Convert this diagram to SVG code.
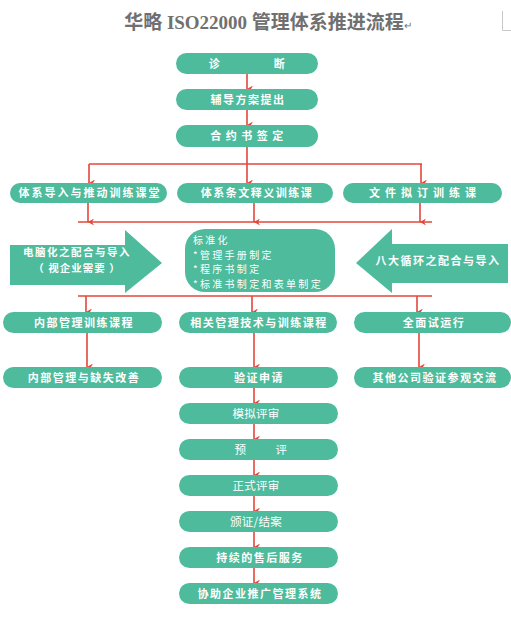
<svg xmlns="http://www.w3.org/2000/svg" width="511" height="617" viewBox="0 0 511 617">
<defs>
<marker id="ah" markerWidth="7" markerHeight="7" refX="3.5" refY="6" orient="auto-start-reverse" markerUnits="userSpaceOnUse" viewBox="0 0 7 7">
<path d="M0,0 L3.5,6 L7,0 L3.5,2 Z" fill="#e2473b"/>
</marker>
</defs>
<style>
.b{fill:#4dbb9c}
.t{fill:#fff;font-family:"Noto Sans CJK SC","Noto Sans",sans-serif;font-size:11px;font-weight:bold;text-anchor:middle;letter-spacing:1.5px}
.m{fill:#fff;font-family:"Noto Sans CJK SC","Noto Sans",sans-serif;font-size:10px;letter-spacing:2.3px}
.c{stroke:#e2473b;stroke-width:1.6;fill:none}
.a{stroke:#e2473b;stroke-width:1.6;fill:none;marker-end:url(#ah)}
</style>
<rect width="511" height="617" fill="#fff"/>
<text x="268" y="29" text-anchor="middle" font-family="'Liberation Serif','Noto Sans CJK SC',serif" font-size="19" font-weight="bold" fill="#707070">华略 ISO22000 管理体系推进流程<tspan font-size="10" font-weight="normal">↵</tspan></text>
<path d="M502.5,11 V30.5 H511" stroke="#c8c8c8" stroke-width="1" fill="none"/>

<g id="connectors">
<line class="a" x1="247" y1="74" x2="247" y2="89"/>
<line class="a" x1="247" y1="110" x2="247" y2="125"/>
<polyline class="c" points="247,147 247,164"/>
<line class="c" x1="89" y1="164" x2="422" y2="164"/>
<line class="a" x1="89" y1="164" x2="89" y2="183"/>
<line class="a" x1="247" y1="164" x2="247" y2="183"/>
<line class="a" x1="421" y1="164" x2="421" y2="183"/>
<line class="a" x1="88" y1="203" x2="88" y2="222"/>
<line class="a" x1="254" y1="203" x2="254" y2="222"/>
<line class="a" x1="420" y1="203" x2="420" y2="222"/>
<line class="c" x1="78" y1="222" x2="432" y2="222"/>
<line class="c" x1="78" y1="296" x2="432" y2="296"/>
<line class="a" x1="86" y1="296" x2="86" y2="312"/>
<line class="a" x1="252" y1="296" x2="252" y2="312"/>
<line class="a" x1="417" y1="296" x2="417" y2="312"/>
<line class="a" x1="87" y1="333" x2="87" y2="367"/>
<line class="a" x1="254" y1="333" x2="254" y2="367"/>
<line class="a" x1="419" y1="333" x2="419" y2="367"/>
<line class="a" x1="254" y1="388" x2="254" y2="403"/>
<line class="a" x1="254" y1="424" x2="254" y2="439"/>
<line class="a" x1="254" y1="460" x2="254" y2="475"/>
<line class="a" x1="254" y1="496" x2="254" y2="511"/>
<line class="a" x1="254" y1="532" x2="254" y2="547"/>
<line class="a" x1="254" y1="568" x2="254" y2="583"/>
</g>

<g id="n-zhenduan"><rect class="b" x="176" y="53" width="142" height="21" rx="10.5"/><text class="t" y="67.5"><tspan x="215">诊</tspan><tspan x="280">断</tspan></text></g>
<g id="n-fudao"><rect class="b" x="176" y="89" width="142" height="21" rx="10.5"/><text class="t" x="248" y="103.5">辅导方案提出</text></g>
<g id="n-heyue"><rect class="b" x="176" y="125" width="142" height="22" rx="11"/><text class="t" x="249" y="140" style="letter-spacing:4.5px">合约书签定</text></g>

<g id="n-tixidaoru"><rect class="b" x="10" y="183" width="157" height="20" rx="10"/><text class="t" x="90" y="197" style="letter-spacing:2px">体系导入与推动训练课堂</text></g>
<g id="n-tiaowen"><rect class="b" x="177" y="183" width="156" height="20" rx="10"/><text class="t" x="257" y="197">体系条文释义训练课</text></g>
<g id="n-wenjian"><rect class="b" x="343" y="183" width="159" height="20" rx="10"/><text class="t" x="425" y="197" style="letter-spacing:5px">文件拟订训练课</text></g>

<g id="n-diannao"><path class="b" d="M10,245 H125 V230 L162,263 L125,293 V285 H10 Z"/><text class="t" x="77" y="256" style="font-size:10.5px">电脑化之配合与导入</text><text class="t" x="77" y="272" style="font-size:10.5px;letter-spacing:1px">（ 视企业需要 ）</text></g>
<g id="n-biaozhun"><rect class="b" x="185" y="229" width="150" height="63" rx="20"/>
<text class="m" x="193" y="244">标准化</text>
<text class="m" x="193" y="258.5">*管理手册制定</text>
<text class="m" x="193" y="273">*程序书制定</text>
<text class="m" x="193" y="287.5">*标准书制定和表单制定</text></g>
<g id="n-bada"><path class="b" d="M508,244 H392 V229 L356,263 L392,293 V283 H508 Z"/><text class="t" x="438" y="265">八大循环之配合与导入</text></g>

<g id="n-neibuxunlian"><rect class="b" x="3" y="312" width="159" height="21" rx="10.5"/><text class="t" x="84" y="326.5">内部管理训练课程</text></g>
<g id="n-xiangguan"><rect class="b" x="179" y="312" width="158" height="21" rx="10.5"/><text class="t" x="259" y="326.5">相关管理技术与训练课程</text></g>
<g id="n-quanmian"><rect class="b" x="354" y="312" width="157" height="21" rx="10.5"/><text class="t" x="434" y="326.5">全面试运行</text></g>

<g id="n-neibugaishan"><rect class="b" x="3" y="367" width="159" height="21" rx="10.5"/><text class="t" x="84" y="381.5">内部管理与缺失改善</text></g>
<g id="n-yanzheng"><rect class="b" x="179" y="367" width="159" height="21" rx="10.5"/><text class="t" x="259" y="381.5">验证申请</text></g>
<g id="n-qita"><rect class="b" x="354" y="367" width="157" height="21" rx="10.5"/><text class="t" x="435" y="381.5">其他公司验证参观交流</text></g>

<g id="n-moni"><rect class="b" x="179" y="403" width="159" height="21" rx="10.5"/><text class="t" x="256" y="417.5" style="letter-spacing:0.3px;font-weight:normal;font-size:11.5px">模拟评审</text></g>
<g id="n-yuping"><rect class="b" x="179" y="439" width="159" height="21" rx="10.5"/><text class="t" y="453.5" style="font-weight:normal;font-size:11.5px"><tspan x="241">预</tspan><tspan x="282">评</tspan></text></g>
<g id="n-zhengshi"><rect class="b" x="179" y="475" width="159" height="21" rx="10.5"/><text class="t" x="256" y="489.5" style="letter-spacing:0.3px;font-weight:normal;font-size:11.5px">正式评审</text></g>
<g id="n-banzheng"><rect class="b" x="179" y="511" width="159" height="21" rx="10.5"/><text class="t" x="256" y="525.5" style="letter-spacing:0.3px;font-weight:normal;font-size:11.5px">颁证/结案</text></g>
<g id="n-shouhou"><rect class="b" x="179" y="547" width="159" height="21" rx="10.5"/><text class="t" x="260" y="561.5">持续的售后服务</text></g>
<g id="n-xiezhu"><rect class="b" x="179" y="583" width="159" height="21" rx="10.5"/><text class="t" x="260" y="597.5">协助企业推广管理系统</text></g>
</svg>
